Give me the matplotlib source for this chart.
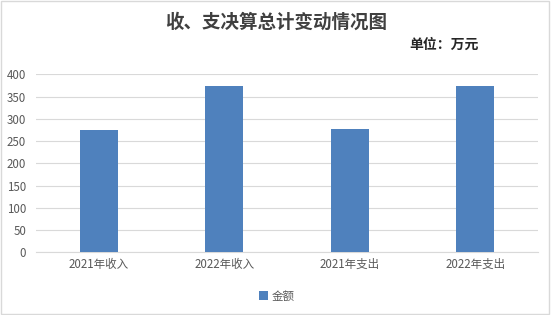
import matplotlib.pyplot as plt
from matplotlib.patches import Rectangle

plt.rcParams['font.family'] = ['Noto Sans CJK SC', 'DejaVu Sans']

categories = ["2021年收入", "2022年收入", "2021年支出", "2022年支出"]
values = [275, 374, 277, 374]
yticks = [0, 50, 100, 150, 200, 250, 300, 350, 400]

fig = plt.figure(figsize=(5.53, 3.15), dpi=100)
ax = fig.add_axes([36 / 553, 1 - 252.3 / 315, 502 / 553, 178 / 315])

x = range(len(categories))
ax.bar(x, values, width=0.3, color="#4f81bd", label="金额", zorder=3)
ax.set_xlim(-0.5, 3.5)
ax.set_ylim(0, 400)
ax.set_yticks(yticks)
ax.set_xticks(list(x))
ax.set_xticklabels(categories)
ax.grid(axis="y", color="#d9d9d9", linewidth=0.8, zorder=0)
for s in ["top", "right", "left"]:
    ax.spines[s].set_visible(False)
ax.spines["bottom"].set_color("#d9d9d9")
ax.tick_params(axis="both", length=0, labelsize=8.3, colors="#595959")
ax.tick_params(axis="y", pad=7)
ax.tick_params(axis="x", pad=4)

fig.text(0.5, 1 - 22 / 315, "收、支决算总计变动情况图", ha="center", va="center",
         fontsize=13.3, fontweight="bold", color="#404040")
fig.text(444 / 553, 1 - 45 / 315, "单位：万元", ha="center", va="center",
         fontsize=10, fontweight="bold", color="#262626")

fig.legend(loc="center", bbox_to_anchor=(0.5, 1 - 296 / 315), frameon=False,
           fontsize=8.3, labelcolor="#595959", handlelength=0.8, handleheight=0.8,
           handletextpad=0.3)

# light border around the chart area
fig.patches.append(Rectangle((0.002, 0.004), 0.99, 0.992, transform=fig.transFigure,
                             fill=False, edgecolor="#d9d9d9", linewidth=1))

fig.savefig("out.png", dpi=100)
